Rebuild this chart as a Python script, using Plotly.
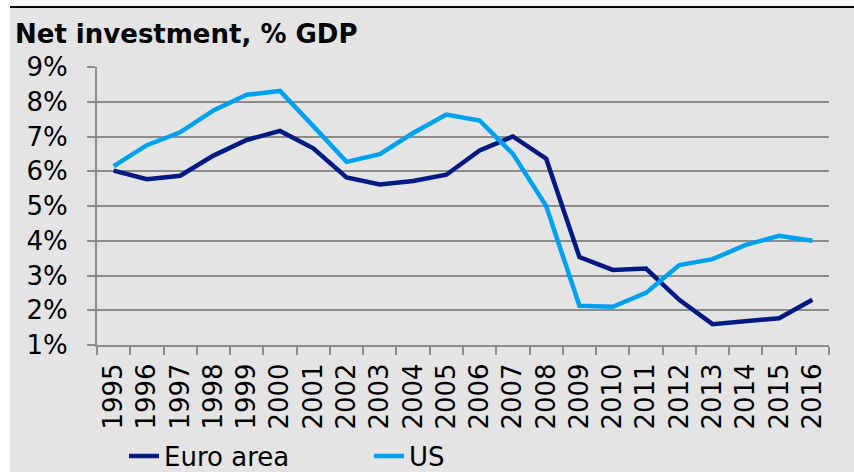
import plotly.graph_objects as go

years = [str(y) for y in range(1995, 2017)]
euro_area = [6.02, 5.77, 5.87, 6.45, 6.9, 7.16, 6.66, 5.82, 5.62, 5.72, 5.9,
             6.6, 7.0, 6.36, 3.53, 3.16, 3.2, 2.3, 1.6, 1.7, 1.77, 2.3]
us = [6.15, 6.75, 7.12, 7.75, 8.2, 8.31, 7.3, 6.27, 6.49, 7.1, 7.63,
      7.46, 6.5, 5.0, 2.13, 2.1, 2.5, 3.3, 3.47, 3.88, 4.14, 4.0]
y_ticks = list(range(1, 10))

BG = "#e4e4e4"
GRID = "#8c8c8c"
FONT = "DejaVu Sans"

fig = go.Figure()
fig.add_trace(go.Scatter(x=years, y=euro_area, mode="lines", name="Euro area",
                         line=dict(color="#001b84", width=4.5)))
fig.add_trace(go.Scatter(x=years, y=us, mode="lines", name="US",
                         line=dict(color="#00a1f1", width=4.5)))

# plot area: x 97..829 px, y 67..345 px
L, R, T, B = 97, 25, 67, 127
pw, ph = 854 - L - R, 472 - T - B

def px(x):
    return (x - L) / pw

def py(y):
    return (472 - B - y) / ph

fig.add_shape(type="rect", xref="paper", yref="paper", layer="below",
              x0=px(10), x1=px(856), y0=py(7), y1=py(474),
              fillcolor=BG, line=dict(width=0))
fig.add_shape(type="line", xref="paper", yref="paper",
              x0=px(10), x1=px(856), y0=py(7), y1=py(7),
              line=dict(color="black", width=2))

fig.add_annotation(text="<b>Net investment, % GDP</b>", xref="paper", yref="paper",
                   x=px(13), y=py(34), xanchor="left", yanchor="middle",
                   showarrow=False, font=dict(family=FONT, size=26, color="black"))

fig.update_layout(
    width=854, height=472,
    margin=dict(l=L, r=R, t=T, b=B, autoexpand=False),
    paper_bgcolor="white", plot_bgcolor=BG,
    font=dict(family=FONT, size=26, color="black"),
    showlegend=True,
    legend=dict(orientation="h", x=px(124), y=py(456), xanchor="left", yanchor="middle",
                bgcolor="rgba(0,0,0,0)", font=dict(size=26),
                entrywidth=200, entrywidthmode="pixels", itemwidth=30),
)
fig.update_xaxes(type="category", tickangle=-90, tickson="boundaries",
                 ticks="outside", ticklen=8, tickcolor=GRID, tickwidth=2,
                 showline=True, linecolor=GRID, linewidth=2,
                 showgrid=False, ticklabelstandoff=6, automargin=False,
                 tickfont=dict(size=26), range=[-0.5, 21.5])
fig.update_yaxes(range=[1, 9], tickvals=y_ticks,
                 ticktext=[f"{v}%" for v in y_ticks],
                 showgrid=True, gridcolor=GRID, gridwidth=2,
                 ticks="outside", ticklen=8, tickcolor=GRID, tickwidth=2,
                 showline=True, linecolor=GRID, linewidth=2, automargin=False,
                 zeroline=False, ticklabelstandoff=14, tickfont=dict(size=26))

# drop the browser's default body margin so the figure sits at the window origin
fig.write_html("out.html", config={"displayModeBar": False},
               post_script="document.body.style.margin='0';")
